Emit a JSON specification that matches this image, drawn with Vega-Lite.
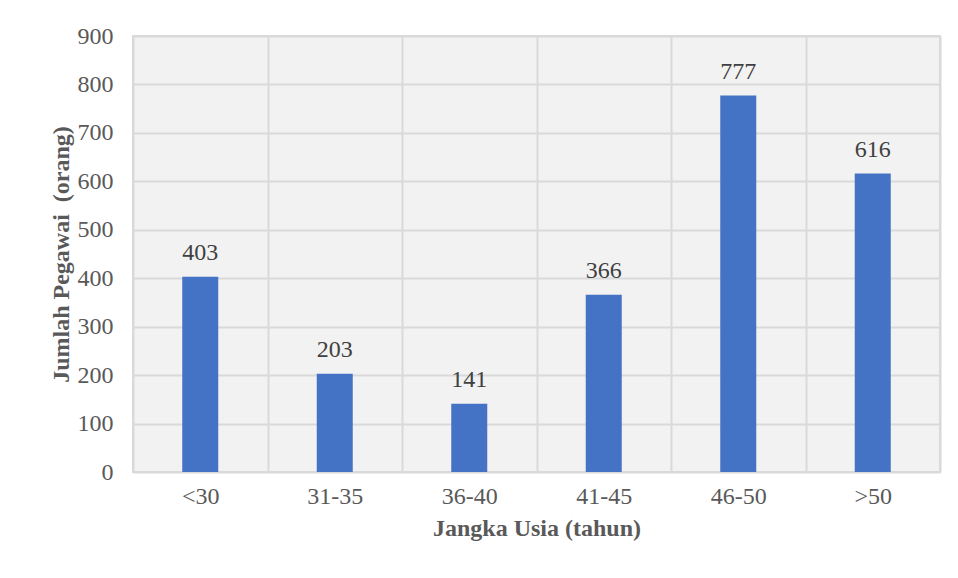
{
  "$schema": "https://vega.github.io/schema/vega-lite/v6.json",
  "width": 807,
  "height": 436,
  "autosize": "none",
  "padding": {"left": 133, "top": 36, "right": 18, "bottom": 106},
  "background": "white",
  "config": {
    "view": {"fill": "#f2f2f2", "stroke": "#d9d9d9", "strokeWidth": 2},
    "font": "Liberation Serif",
    "text": {"font": "Liberation Serif", "fontSize": 24, "color": "#404040"}
  },
  "data": {
    "values": [
      {"usia": "<30", "jumlah": 403},
      {"usia": "31-35", "jumlah": 203},
      {"usia": "36-40", "jumlah": 141},
      {"usia": "41-45", "jumlah": 366},
      {"usia": "46-50", "jumlah": 777},
      {"usia": ">50", "jumlah": 616}
    ]
  },
  "encoding": {
    "x": {
      "field": "usia",
      "type": "nominal",
      "sort": null,
      "scale": {"paddingInner": 0, "paddingOuter": 0},
      "axis": {
        "title": "Jangka Usia (tahun)",
        "labelAngle": 0,
        "tickBand": "extent",
        "grid": true,
        "gridColor": "#d9d9d9",
        "gridWidth": 2,
        "ticks": false,
        "domain": false,
        "labelFont": "Liberation Serif",
        "labelFontSize": 24,
        "labelColor": "#595959",
        "labelPadding": 12,
        "titleFont": "Liberation Serif",
        "titleFontSize": 24,
        "titleFontWeight": "bold",
        "titleColor": "#595959",
        "titlePadding": 8
      }
    },
    "y": {
      "field": "jumlah",
      "type": "quantitative",
      "scale": {"domain": [0, 900], "nice": false},
      "axis": {
        "title": "Jumlah Pegawai\u00a0\u00a0(orang)",
        "values": [0, 100, 200, 300, 400, 500, 600, 700, 800, 900],
        "grid": true,
        "gridColor": "#d9d9d9",
        "gridWidth": 2,
        "ticks": false,
        "domain": false,
        "labelFont": "Liberation Serif",
        "labelFontSize": 24,
        "labelColor": "#595959",
        "labelPadding": 20,
        "titleFont": "Liberation Serif",
        "titleFontSize": 24,
        "titleFontWeight": "bold",
        "titleColor": "#595959",
        "titlePadding": 4
      }
    }
  },
  "layer": [
    {"mark": {"type": "bar", "color": "#4472C4", "width": 36}},
    {
      "mark": {
        "type": "text",
        "dy": -17,
        "baseline": "alphabetic",
        "fontSize": 24,
        "font": "Liberation Serif",
        "color": "#404040"
      },
      "encoding": {
        "text": {"field": "jumlah", "type": "quantitative"}
      }
    }
  ]
}
